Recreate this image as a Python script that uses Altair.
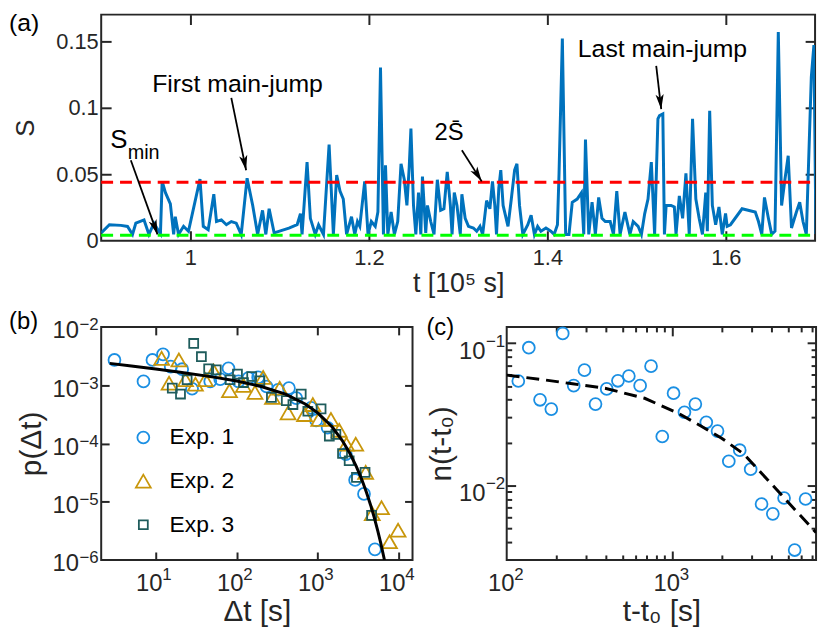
import altair as alt
import pandas as pd

FONT = "Liberation Sans"
DARK = "#262626"
LINE_BLUE = "#0072BD"
C1, C2, C3 = "#1a8fe3", "#c8960a", "#1f5c5c"

# ---------------- panel (a): S(t) ----------------
t_a = [0.900, 0.9092, 0.9221, 0.9295, 0.9351, 0.9388, 0.9480, 0.9535, 0.9591, 0.9646,
       0.9664, 0.9683, 0.9720, 0.9775, 0.9812, 0.9830, 0.9867, 0.9923, 0.9978, 1.0107,
       1.0144, 1.0199, 1.0262, 1.0292, 1.0347, 1.0403, 1.0458, 1.0513, 1.0569, 1.0635,
       1.0698, 1.0753, 1.0808, 1.0845, 1.0882, 1.0938, 1.1104, 1.1196, 1.1233, 1.1251,
       1.1307, 1.1344, 1.1399, 1.1436, 1.1491, 1.1554, 1.1602, 1.1639, 1.1676, 1.1713,
       1.1750, 1.1805, 1.1842, 1.1872, 1.1898, 1.1953, 1.1990, 1.2027, 1.2071, 1.2101,
       1.2130, 1.2163, 1.2186, 1.2212, 1.2249, 1.2286, 1.2323, 1.2360, 1.2397, 1.2426,
       1.2452, 1.2471, 1.2500, 1.2526, 1.2556, 1.2582, 1.2600, 1.2637, 1.2656, 1.2693,
       1.2730, 1.2767, 1.2804, 1.2841, 1.2878, 1.2913, 1.2932, 1.2957, 1.2987, 1.3024,
       1.3042, 1.3079, 1.3116, 1.3171, 1.3208, 1.3245, 1.3275, 1.3319, 1.3356, 1.3385,
       1.3411, 1.3430, 1.3456, 1.3478, 1.3504, 1.3559, 1.3596, 1.3633, 1.3659, 1.3688,
       1.3725, 1.3781, 1.3818, 1.3855, 1.3891, 1.3928, 1.3984, 1.4039, 1.4076, 1.4113,
       1.4131, 1.4168, 1.4205, 1.4242, 1.4279, 1.4334, 1.4382, 1.4408, 1.4427, 1.4464,
       1.4501, 1.4538, 1.4575, 1.4612, 1.4649, 1.4704, 1.4741, 1.4778, 1.4815, 1.4869,
       1.4925, 1.4962, 1.5017, 1.5054, 1.5091, 1.5128, 1.5165, 1.5202, 1.5239, 1.5257,
       1.5294, 1.5312, 1.5331, 1.5386, 1.5423, 1.5442, 1.5479, 1.5516, 1.5553, 1.5590,
       1.5627, 1.5664, 1.5701, 1.5738, 1.5775, 1.5793, 1.5819, 1.5849, 1.5886, 1.5923,
       1.5960, 1.5997, 1.6015, 1.6052, 1.6182, 1.6330, 1.6366, 1.6403, 1.6433, 1.6477,
       1.6514, 1.6551, 1.6588, 1.6625, 1.6662, 1.6699, 1.6736, 1.6791, 1.6828, 1.6865,
       1.6902, 1.6958, 1.6987, 1.7010]
s_a = [0.0059, 0.0120, 0.0115, 0.0107, 0.0047, 0.0132, 0.0156, 0.0047, 0.0132, 0.0071,
       0.0052, 0.0446, 0.0361, 0.0277, 0.0047, 0.0180, 0.0047, 0.0108, 0.0071, 0.0463,
       0.0108, 0.0083, 0.0349, 0.0144, 0.0156, 0.0120, 0.0144, 0.0132, 0.0047, 0.0470,
       0.0265, 0.0047, 0.0228, 0.0047, 0.0240, 0.0059, 0.0095, 0.0120, 0.0204, 0.0047,
       0.0591, 0.0168, 0.0047, 0.0120, 0.0047, 0.0723, 0.0047, 0.0494, 0.0373, 0.0313,
       0.0047, 0.0180, 0.0047, 0.0144, 0.0108, 0.0446, 0.0047, 0.0144, 0.0108, 0.0216,
       0.1303, 0.0047, 0.0567, 0.0047, 0.0216, 0.0047, 0.0144, 0.0578, 0.0458, 0.0265,
       0.0554, 0.0844, 0.0265, 0.0047, 0.0361, 0.0047, 0.0482, 0.0059, 0.0265, 0.0144,
       0.0047, 0.0458, 0.0228, 0.0240, 0.0518, 0.0265, 0.0047, 0.0361, 0.0265, 0.0047,
       0.0349, 0.0168, 0.0108, 0.0095, 0.0071, 0.0108, 0.0047, 0.0301, 0.0240, 0.0446,
       0.0265, 0.0047, 0.0397, 0.0530, 0.0265, 0.0108, 0.0313, 0.0530, 0.0578, 0.0265,
       0.0047, 0.0120, 0.0192, 0.0047, 0.0108, 0.0071, 0.0095, 0.0071, 0.0047, 0.0120,
       0.0506, 0.1520, 0.0047, 0.0047, 0.0289, 0.0313, 0.0361, 0.0047, 0.0760, 0.0047,
       0.0289, 0.0047, 0.0325, 0.0168, 0.0144, 0.0144, 0.0047, 0.0373, 0.0047, 0.0216,
       0.0047, 0.0144, 0.0108, 0.0047, 0.0204, 0.0313, 0.0591, 0.0047, 0.0916, 0.0941,
       0.0953, 0.0047, 0.0265, 0.0265, 0.0253, 0.0047, 0.0337, 0.0168, 0.0506, 0.0047,
       0.0916, 0.0313, 0.0168, 0.0047, 0.0361, 0.0071, 0.0977, 0.0265, 0.0120, 0.0253,
       0.0047, 0.0204, 0.0108, 0.0120, 0.0240, 0.0216, 0.0144, 0.0047, 0.0325, 0.0168,
       0.0047, 0.0071, 0.1569, 0.0265, 0.0458, 0.0639, 0.0095, 0.0216, 0.0289, 0.0144,
       0.0047, 0.1231, 0.1471, 0.0050]
two_s_mean = 0.044
s_min = 0.004

ann_text = ["First main-jump", "Last main-jump", "2S\u0304", "S"]
ann_t = [1.0528, 1.5290, 1.2898, 0.9199]
ann_s = [0.1178, 0.1438, 0.0808, 0.0757]
ann_size = [25, 25, 24, 26]
sub_text = ["min"]
sub_t = [0.9476]
sub_s = [0.0656]
arr_t0 = [1.0458, 1.5220, 1.3042, 0.9332]
arr_s0 = [0.1074, 0.1315, 0.0680, 0.0605]
arr_t1 = [1.0624, 1.5276, 1.3264, 0.9631]
arr_s1 = [0.0530, 0.0989, 0.0446, 0.0047]
arr_angle = [168.7, 173.7, 148.0, 160.7]

# ---------------- panel (b): p(dt) ----------------
EXPS = ["Exp. 1", "Exp. 2", "Exp. 3"]
b1_dt = [3.09, 7.06, 9.1, 12.3, 15.3, 21.2, 28.1, 47.1, 62.5, 79.0, 105, 139, 184, 233,
         324, 441, 543, 829, 955, 1325, 2222, 2893, 3725, 5080]
b1_p = [2.71e-3, 1.16e-3, 2.71e-3, 3.38e-3, 2.08e-3, 1.88e-3, 8.69e-4, 1.16e-3, 1.27e-3,
        1.95e-3, 1.16e-3, 1.32e-3, 1.36e-3, 9.5e-4, 8.35e-4, 8.9e-4, 6.0e-4, 4.07e-4,
        2.48e-4, 1.86e-4, 6.55e-5, 2.36e-5, 1.36e-5, 1.52e-6]
b2_dt = [11.8, 19.3, 14.6, 23.3, 30.9, 41.0, 51.8, 81.3, 121, 168, 212, 276, 339, 430,
         687, 869, 1029, 1456, 1842, 2265, 2945, 3905, 4713, 6133, 7690, 9818]
b2_p = [2.89e-3, 2.71e-3, 1.08e-3, 1.24e-3, 1.04e-3, 1.24e-3, 1.76e-3, 8.03e-4, 9.9e-4,
        7.53e-4, 1.36e-3, 6.18e-4, 8.9e-4, 3.35e-4, 3.13e-4, 4.65e-4, 2.58e-4, 2.58e-4,
        1.68e-4, 9.7e-5, 9.7e-5, 3.19e-5, 6.2e-6, 7.87e-6, 2.05e-6, 3.24e-6]
b3_dt = [16.0, 20.2, 24.4, 29.4, 36.6, 45.0, 55.8, 82.8, 102, 121, 153, 193, 268, 409,
         494, 625, 755, 1099, 1390, 1675, 2023, 2443, 3005, 3837, 4624]
b3_p = [8.9e-4, 7.05e-4, 1.24e-3, 5.2e-3, 3.08e-3, 1.90e-3, 1.83e-3, 1.24e-3, 1.55e-3,
        1.11e-3, 1.41e-3, 1.19e-3, 6.18e-4, 5.43e-4, 4.65e-4, 7.05e-4, 3.57e-4, 3.92e-4,
        1.34e-4, 1.43e-4, 6.72e-5, 5.04e-5, 2.62e-5, 3.19e-5, 5.83e-6]
b_fit_dt = [2.7, 5, 10, 20, 50, 100, 200, 400, 700, 1000, 1500, 2000, 2500, 3000, 3500,
            4000, 4500, 5000, 5500, 6000, 6600, 6800]
b_fit_p = [2.37e-3, 2.13e-3, 1.89e-3, 1.67e-3, 1.39e-3, 1.18e-3, 9.5e-4, 7.0e-4, 4.75e-4,
           3.35e-4, 1.93e-4, 1.13e-4, 6.7e-5, 4.0e-5, 2.4e-5, 1.44e-5, 8.7e-6, 5.27e-6,
           3.19e-6, 1.94e-6, 1.06e-6, 8.5e-7]

# ---------------- panel (c): n(t-t0) ----------------
c_t = [117.5, 136, 159, 186, 218, 254, 295, 344, 402, 470, 547, 640, 745, 871, 1019,
       1186, 1380, 1607, 1879, 2198, 2559, 2979, 3467, 4055, 4742, 5495, 6397]
c_n = [0.0542, 0.0929, 0.0400, 0.0344, 0.117, 0.0503, 0.0646, 0.0373, 0.0477, 0.0544,
       0.0588, 0.0503, 0.0689, 0.0221, 0.0445, 0.0327, 0.0373, 0.0278, 0.0241, 0.0148,
       0.0177, 0.0130, 0.00741, 0.00632, 0.00817, 0.00352, 0.00804]
c_fit_t = [100, 171, 250, 393, 682, 1081, 1500, 2000, 2716, 3500, 4300, 5500, 7400]
c_fit_n = [0.0596, 0.0551, 0.0518, 0.0482, 0.0410, 0.0323, 0.0261, 0.0214, 0.0166,
           0.01205, 0.00929, 0.00679, 0.00467]


# ---------------- helpers ----------------
def pow_expr(exps, labs):
    vals = [10.0 ** e for e in exps]
    expr = "'" + labs[-1] + "'"
    for v, l in reversed(list(zip(vals[:-1], labs[:-1]))):
        expr = f"datum.value < {v * 1.5} ? '{l}' : ({expr})"
    return vals, expr


def exp_labels(exps):
    return [str(e).replace("-", "\u2212") for e in exps]


def axis(**kw):
    base = dict(grid=False, domain=False, labelFont=FONT, titleFont=FONT,
                tickColor=DARK, tickWidth=2, labelColor=DARK, titleColor=DARK,
                titleFontWeight="normal", labelFlush=False, labelOverlap=False)
    base.update(kw)
    return alt.Axis(**base)


def tick_axis(orient, offset, values, size):
    return axis(orient=orient, offset=offset, values=values, labels=False,
                title=None, ticks=True, tickSize=size)


def base_label_axis(orient, values, **kw):
    # the "10" part of a power-of-ten label
    return axis(orient=orient, values=values, labelExpr="'10'", ticks=False, tickSize=0,
                labelFontSize=24, **kw)


def sup_label_axis(orient, values, expr, **kw):
    # the exponent part of a power-of-ten label
    return axis(orient=orient, values=values, labelExpr=expr, ticks=False, tickSize=0,
                labelFontSize=17, title=None, **kw)


# ================= (a) =================
W_A, H_A = 720, 228
xa = alt.Scale(domain=[0.9, 1.7], nice=False, zero=False)
ya = alt.Scale(domain=[0, 0.17], nice=False, zero=False)
xa_ticks = [1.0, 1.2, 1.4, 1.6]
ya_ticks = [0.05, 0.1, 0.15]

df_a = pd.DataFrame({"t": t_a, "s": s_a})
a_line = alt.Chart(df_a).mark_line(color=LINE_BLUE, strokeWidth=3, clip=True).encode(
    x=alt.X("t:Q", scale=xa, axis=axis(orient="bottom", values=xa_ticks, format="~g",
                                       ticks=False, tickSize=0, labelFontSize=22, labelPadding=7,
                                       title="t [10⁵ s]", titleFontSize=27, titlePadding=2)),
    y=alt.Y("s:Q", scale=ya, axis=axis(orient="left", values=[0] + ya_ticks, format="~g",
                                       ticks=False, tickSize=0, labelFontSize=22, labelPadding=3,
                                       title="S", titleFontSize=26, titlePadding=17)),
)
df_red = pd.DataFrame({"t": [0.9, 1.7], "s": [two_s_mean, two_s_mean]})
a_red = alt.Chart(df_red).mark_line(color="#FF0000", strokeWidth=3, strokeDash=[12, 7]).encode(
    x=alt.X("t:Q", scale=xa, axis=tick_axis("bottom", -H_A, xa_ticks, 10)),
    y=alt.Y("s:Q", scale=ya, axis=tick_axis("left", -W_A, ya_ticks, 10)),
)
df_green = pd.DataFrame({"t": [0.9, 1.7], "s": [s_min, s_min]})
a_green = alt.Chart(df_green).mark_line(color="#00FF00", strokeWidth=3, strokeDash=[12, 7]).encode(
    x=alt.X("t:Q", scale=xa, axis=tick_axis("top", -H_A, xa_ticks, 10)),
    y=alt.Y("s:Q", scale=ya, axis=tick_axis("right", -W_A, ya_ticks, 10)),
)
df_arr = pd.DataFrame({"t0": arr_t0, "s0": arr_s0, "t1": arr_t1, "s1": arr_s1, "ang": arr_angle})
a_rules = alt.Chart(df_arr).mark_rule(color="black", strokeWidth=1.8).encode(
    x=alt.X("t0:Q", scale=xa, axis=None), y=alt.Y("s0:Q", scale=ya, axis=None),
    x2="t1:Q", y2="s1:Q",
)
ARROW = "M0,0L-0.55,2L0,1.5L0.55,2Z"
a_heads = alt.Chart(df_arr).mark_point(shape=ARROW, filled=True, color="black", opacity=1,
                                       size=225, strokeWidth=0).encode(
    x=alt.X("t1:Q", scale=xa, axis=None), y=alt.Y("s1:Q", scale=ya, axis=None),
    angle=alt.Angle("ang:Q", scale=None),
)
df_ann = pd.DataFrame({"t": ann_t, "s": ann_s, "label": ann_text, "fs": ann_size})
a_text = alt.Chart(df_ann).mark_text(font=FONT, color="black").encode(
    x=alt.X("t:Q", scale=xa, axis=None), y=alt.Y("s:Q", scale=ya, axis=None), text="label:N",
    size=alt.Size("fs:Q", scale=None, legend=None),
)
df_sub = pd.DataFrame({"t": sub_t, "s": sub_s, "label": sub_text})
a_sub = alt.Chart(df_sub).mark_text(font=FONT, fontSize=20, color="black").encode(
    x=alt.X("t:Q", scale=xa, axis=None), y=alt.Y("s:Q", scale=ya, axis=None), text="label:N",
)
a_lab = alt.Chart(pd.DataFrame({"l": ["(a)"]})).mark_text(
    font=FONT, fontSize=25, align="left", baseline="middle", color="black").encode(
    x=alt.value(-93), y=alt.value(9), text="l:N")

panel_a = alt.layer(a_line, a_red, a_green, a_rules, a_heads, a_text, a_sub, a_lab).resolve_axis(
    x="independent", y="independent").properties(width=W_A, height=H_A)

# ================= (b) =================
W_B, H_B = 314, 235
xb = alt.Scale(type="log", domain=[2.12, 14800], nice=False)
yb = alt.Scale(type="log", domain=[1e-6, 1e-2], nice=False)
xb_exps = [1, 2, 3, 4]
yb_exps = [-6, -5, -4, -3, -2]
xb_vals, xb_sup = pow_expr(xb_exps, exp_labels(xb_exps))
yb_vals, yb_sup = pow_expr(yb_exps, exp_labels(yb_exps))

df_b = pd.DataFrame({
    "dt": b1_dt + b2_dt + b3_dt,
    "p": b1_p + b2_p + b3_p,
    "exp": [EXPS[0]] * len(b1_dt) + [EXPS[1]] * len(b2_dt) + [EXPS[2]] * len(b3_dt),
})
leg = alt.Legend(title=None, orient="none", legendX=31, legendY=100, labelFont=FONT,
                 labelFontSize=23, labelColor="black", rowPadding=20, labelOffset=15,
                 symbolStrokeWidth=1.8, padding=0)
b_pts = alt.Chart(df_b).mark_point(filled=False, strokeWidth=1.8, opacity=1).encode(
    x=alt.X("dt:Q", scale=xb, axis=base_label_axis("bottom", xb_vals, labelPadding=12,
                                                   labelOffset=-7, title="Δt [s]",
                                                   titleFontSize=30, titlePadding=1)),
    y=alt.Y("p:Q", scale=yb, axis=base_label_axis("left", yb_vals, labelPadding=23,
                                                  labelOffset=4, title="p(Δt)",
                                                  titleFontSize=30, titlePadding=6)),
    color=alt.Color("exp:N", scale=alt.Scale(domain=EXPS, range=[C1, C2, C3]), legend=leg),
    shape=alt.Shape("exp:N", scale=alt.Scale(domain=EXPS, range=["circle", "triangle-up", "square"]), legend=leg),
    size=alt.Size("exp:N", scale=alt.Scale(type="ordinal", domain=EXPS, range=[144, 225, 81]), legend=leg),
)
df_bfit = pd.DataFrame({"dt": b_fit_dt, "p": b_fit_p})
b_sup = alt.Chart(df_bfit).mark_line(strokeOpacity=0, clip=True).encode(
    x=alt.X("dt:Q", scale=xb, axis=sup_label_axis("bottom", xb_vals, xb_sup, labelPadding=7,
                                                  labelAlign="left", labelOffset=6)),
    y=alt.Y("p:Q", scale=yb, axis=sup_label_axis("left", yb_vals, yb_sup, labelPadding=3,
                                                 labelOffset=-2)),
)
b_fit = alt.Chart(df_bfit).mark_line(color="black", strokeWidth=3, clip=True).encode(
    x=alt.X("dt:Q", scale=xb, axis=tick_axis("top", -H_B, xb_vals, 8)),
    y=alt.Y("p:Q", scale=yb, axis=tick_axis("right", -W_B, yb_vals[1:-1], 8)),
)
b_box = alt.Chart(df_bfit).mark_line(strokeOpacity=0, clip=True).encode(
    x=alt.X("dt:Q", scale=xb, axis=tick_axis("bottom", -H_B, xb_vals, 8)),
    y=alt.Y("p:Q", scale=yb, axis=tick_axis("left", -W_B, yb_vals[1:-1], 8)),
)
b_lab = alt.Chart(pd.DataFrame({"l": ["(b)"]})).mark_text(
    font=FONT, fontSize=24, align="left", baseline="middle", color="black").encode(
    x=alt.value(-93), y=alt.value(-5), text="l:N")
panel_b = alt.layer(b_pts, b_sup, b_fit, b_box, b_lab).resolve_axis(
    x="independent", y="independent").properties(width=W_B, height=H_B)

# ================= (c) =================
W_C, H_C = 312, 235
xc = alt.Scale(type="log", domain=[100, 7400], nice=False)
yc = alt.Scale(type="log", domain=[0.003, 0.13], nice=False)
xc_exps = [2, 3]
yc_exps = [-2, -1]
xc_vals, xc_sup = pow_expr(xc_exps, exp_labels(xc_exps))
yc_vals, yc_sup = pow_expr(yc_exps, exp_labels(yc_exps))
xc_minor = [200, 300, 400, 500, 600, 700, 800, 900, 2000, 3000, 4000, 5000, 6000, 7000]
yc_minor = [0.004, 0.005, 0.006, 0.007, 0.008, 0.009, 0.02, 0.03, 0.04, 0.05, 0.06,
            0.07, 0.08, 0.09]

df_c = pd.DataFrame({"t": c_t, "n": c_n})
c_pts = alt.Chart(df_c).mark_point(filled=False, color=C1, size=144, strokeWidth=1.8, opacity=1).encode(
    x=alt.X("t:Q", scale=xc, axis=base_label_axis("bottom", xc_vals, labelPadding=12,
                                                  labelOffset=-6, title="t-t₀ [s]",
                                                  titleFontSize=30, titlePadding=1)),
    y=alt.Y("n:Q", scale=yc, axis=base_label_axis("left", yc_vals, labelPadding=22,
                                                  labelOffset=8, title="n(t-t₀)",
                                                  titleFontSize=30, titlePadding=2)),
)
df_cfit = pd.DataFrame({"t": c_fit_t, "n": c_fit_n})
c_sup = alt.Chart(df_cfit).mark_line(strokeOpacity=0).encode(
    x=alt.X("t:Q", scale=xc, axis=sup_label_axis("bottom", xc_vals, xc_sup, labelPadding=7,
                                                 labelAlign="left", labelOffset=7)),
    y=alt.Y("n:Q", scale=yc, axis=sup_label_axis("left", yc_vals, yc_sup, labelPadding=2,
                                                 labelOffset=-2)),
)
c_fit = alt.Chart(df_cfit).mark_line(color="black", strokeWidth=3, strokeDash=[13, 7], clip=True).encode(
    x=alt.X("t:Q", scale=xc, axis=tick_axis("top", -H_C, [1000], 9)),
    y=alt.Y("n:Q", scale=yc, axis=tick_axis("right", -W_C, yc_vals, 9)),
)
c_t1 = alt.Chart(df_cfit).mark_line(strokeOpacity=0).encode(
    x=alt.X("t:Q", scale=xc, axis=tick_axis("top", -H_C, xc_minor, 5)),
    y=alt.Y("n:Q", scale=yc, axis=tick_axis("right", -W_C, yc_minor, 5)),
)
c_t2 = alt.Chart(df_cfit).mark_line(strokeOpacity=0).encode(
    x=alt.X("t:Q", scale=xc, axis=tick_axis("bottom", -H_C, [1000], 9)),
    y=alt.Y("n:Q", scale=yc, axis=tick_axis("left", -W_C, yc_vals, 9)),
)
c_t3 = alt.Chart(df_cfit).mark_line(strokeOpacity=0).encode(
    x=alt.X("t:Q", scale=xc, axis=tick_axis("bottom", -H_C, xc_minor, 5)),
    y=alt.Y("n:Q", scale=yc, axis=tick_axis("left", -W_C, yc_minor, 5)),
)
c_lab = alt.Chart(pd.DataFrame({"l": ["(c)"]})).mark_text(
    font=FONT, fontSize=24, align="left", baseline="middle", color="black").encode(
    x=alt.value(-81), y=alt.value(1), text="l:N")
panel_c = alt.layer(c_pts, c_sup, c_fit, c_t1, c_t2, c_t3, c_lab).resolve_axis(
    x="independent", y="independent").properties(width=W_C, height=H_C)

bottom = alt.hconcat(panel_b, panel_c, spacing=10).resolve_scale(
    color="independent", shape="independent", size="independent").resolve_legend(
    color="independent", shape="independent", size="independent")

chart = alt.vconcat(panel_a, bottom, spacing=12).resolve_scale(
    color="independent", shape="independent", size="independent").resolve_legend(
    color="independent", shape="independent", size="independent").properties(
    padding=0, background="white").configure_view(stroke=DARK, strokeWidth=2)

chart.save("out.html", embed_options={"renderer": "svg", "actions": False})
